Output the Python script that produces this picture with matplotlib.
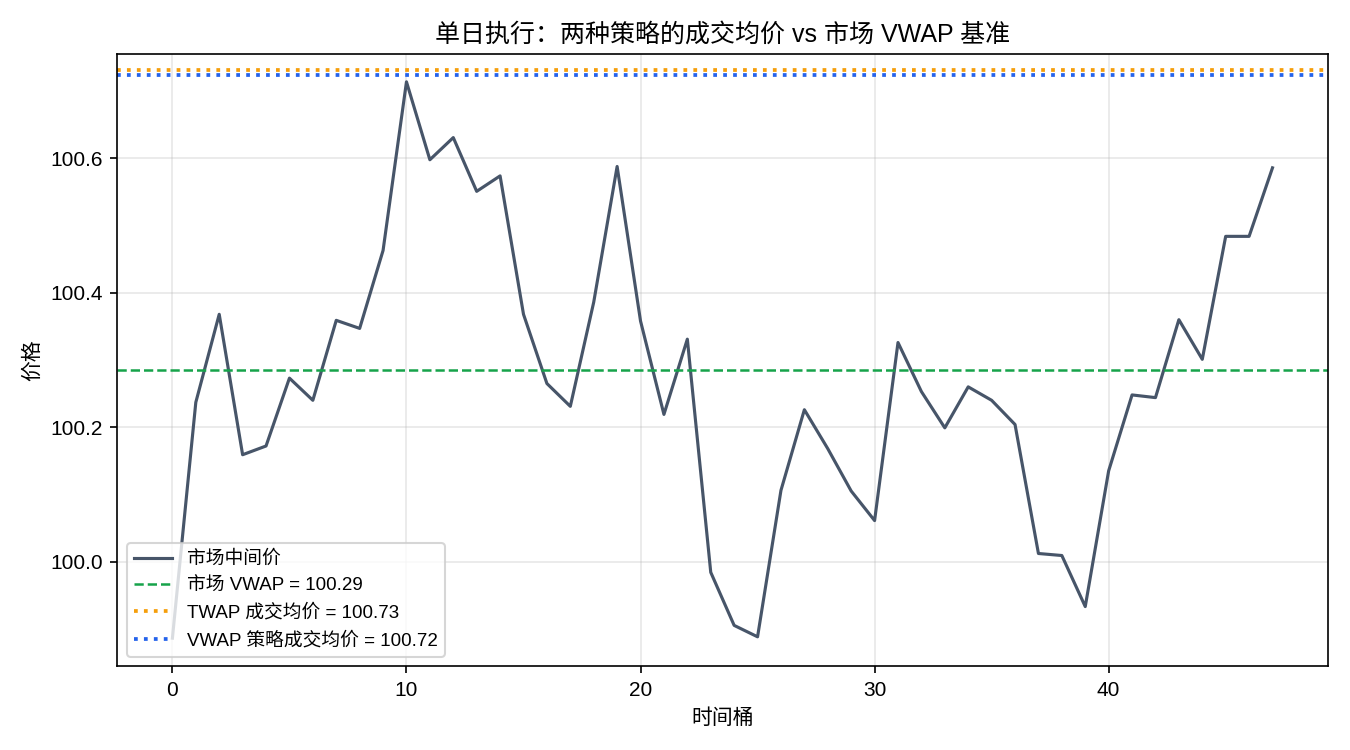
import numpy as np
import matplotlib.pyplot as plt

plt.rcParams['font.family'] = ['Liberation Sans', 'Noto Sans CJK SC', 'DejaVu Sans']
plt.rcParams['axes.unicode_minus'] = False

# 市场中间价（每个时间桶）
buckets = np.arange(48)
mid_price = [
    99.886, 100.237, 100.368, 100.159, 100.172, 100.273, 100.240, 100.359,
    100.347, 100.463, 100.714, 100.598, 100.631, 100.551, 100.574, 100.368,
    100.265, 100.231, 100.386, 100.588, 100.358, 100.219, 100.331, 99.984,
    99.905, 99.888, 100.106, 100.226, 100.168, 100.105, 100.061, 100.326,
    100.253, 100.199, 100.260, 100.240, 100.204, 100.012, 100.009, 99.933,
    100.135, 100.248, 100.244, 100.360, 100.301, 100.484, 100.484, 100.586,
]

market_vwap = 100.2852
twap_fill = 100.732
vwap_fill = 100.724

fig, ax = plt.subplots(figsize=(9, 5), dpi=150)
ax.plot(buckets, mid_price, color='#475569', lw=1.5, label='市场中间价')
ax.axhline(market_vwap, color='#16a34a', ls='--', lw=1.2,
           label=f'市场 VWAP = {market_vwap:.2f}')
ax.axhline(twap_fill, color='#f59e0b', ls=':', lw=1.8,
           label=f'TWAP 成交均价 = {twap_fill:.2f}')
ax.axhline(vwap_fill, color='#2563eb', ls=':', lw=1.8,
           label=f'VWAP 策略成交均价 = {vwap_fill:.2f}')

ax.set_title('单日执行：两种策略的成交均价 vs 市场 VWAP 基准', fontsize=12)
ax.set_xlabel('时间桶', fontsize=10)
ax.set_ylabel('价格', fontsize=10)
ax.tick_params(labelsize=10)
ax.grid(True, alpha=0.3)
ax.legend(loc='lower left', fontsize=9)

plt.tight_layout()
plt.savefig('out.png', dpi=150)
